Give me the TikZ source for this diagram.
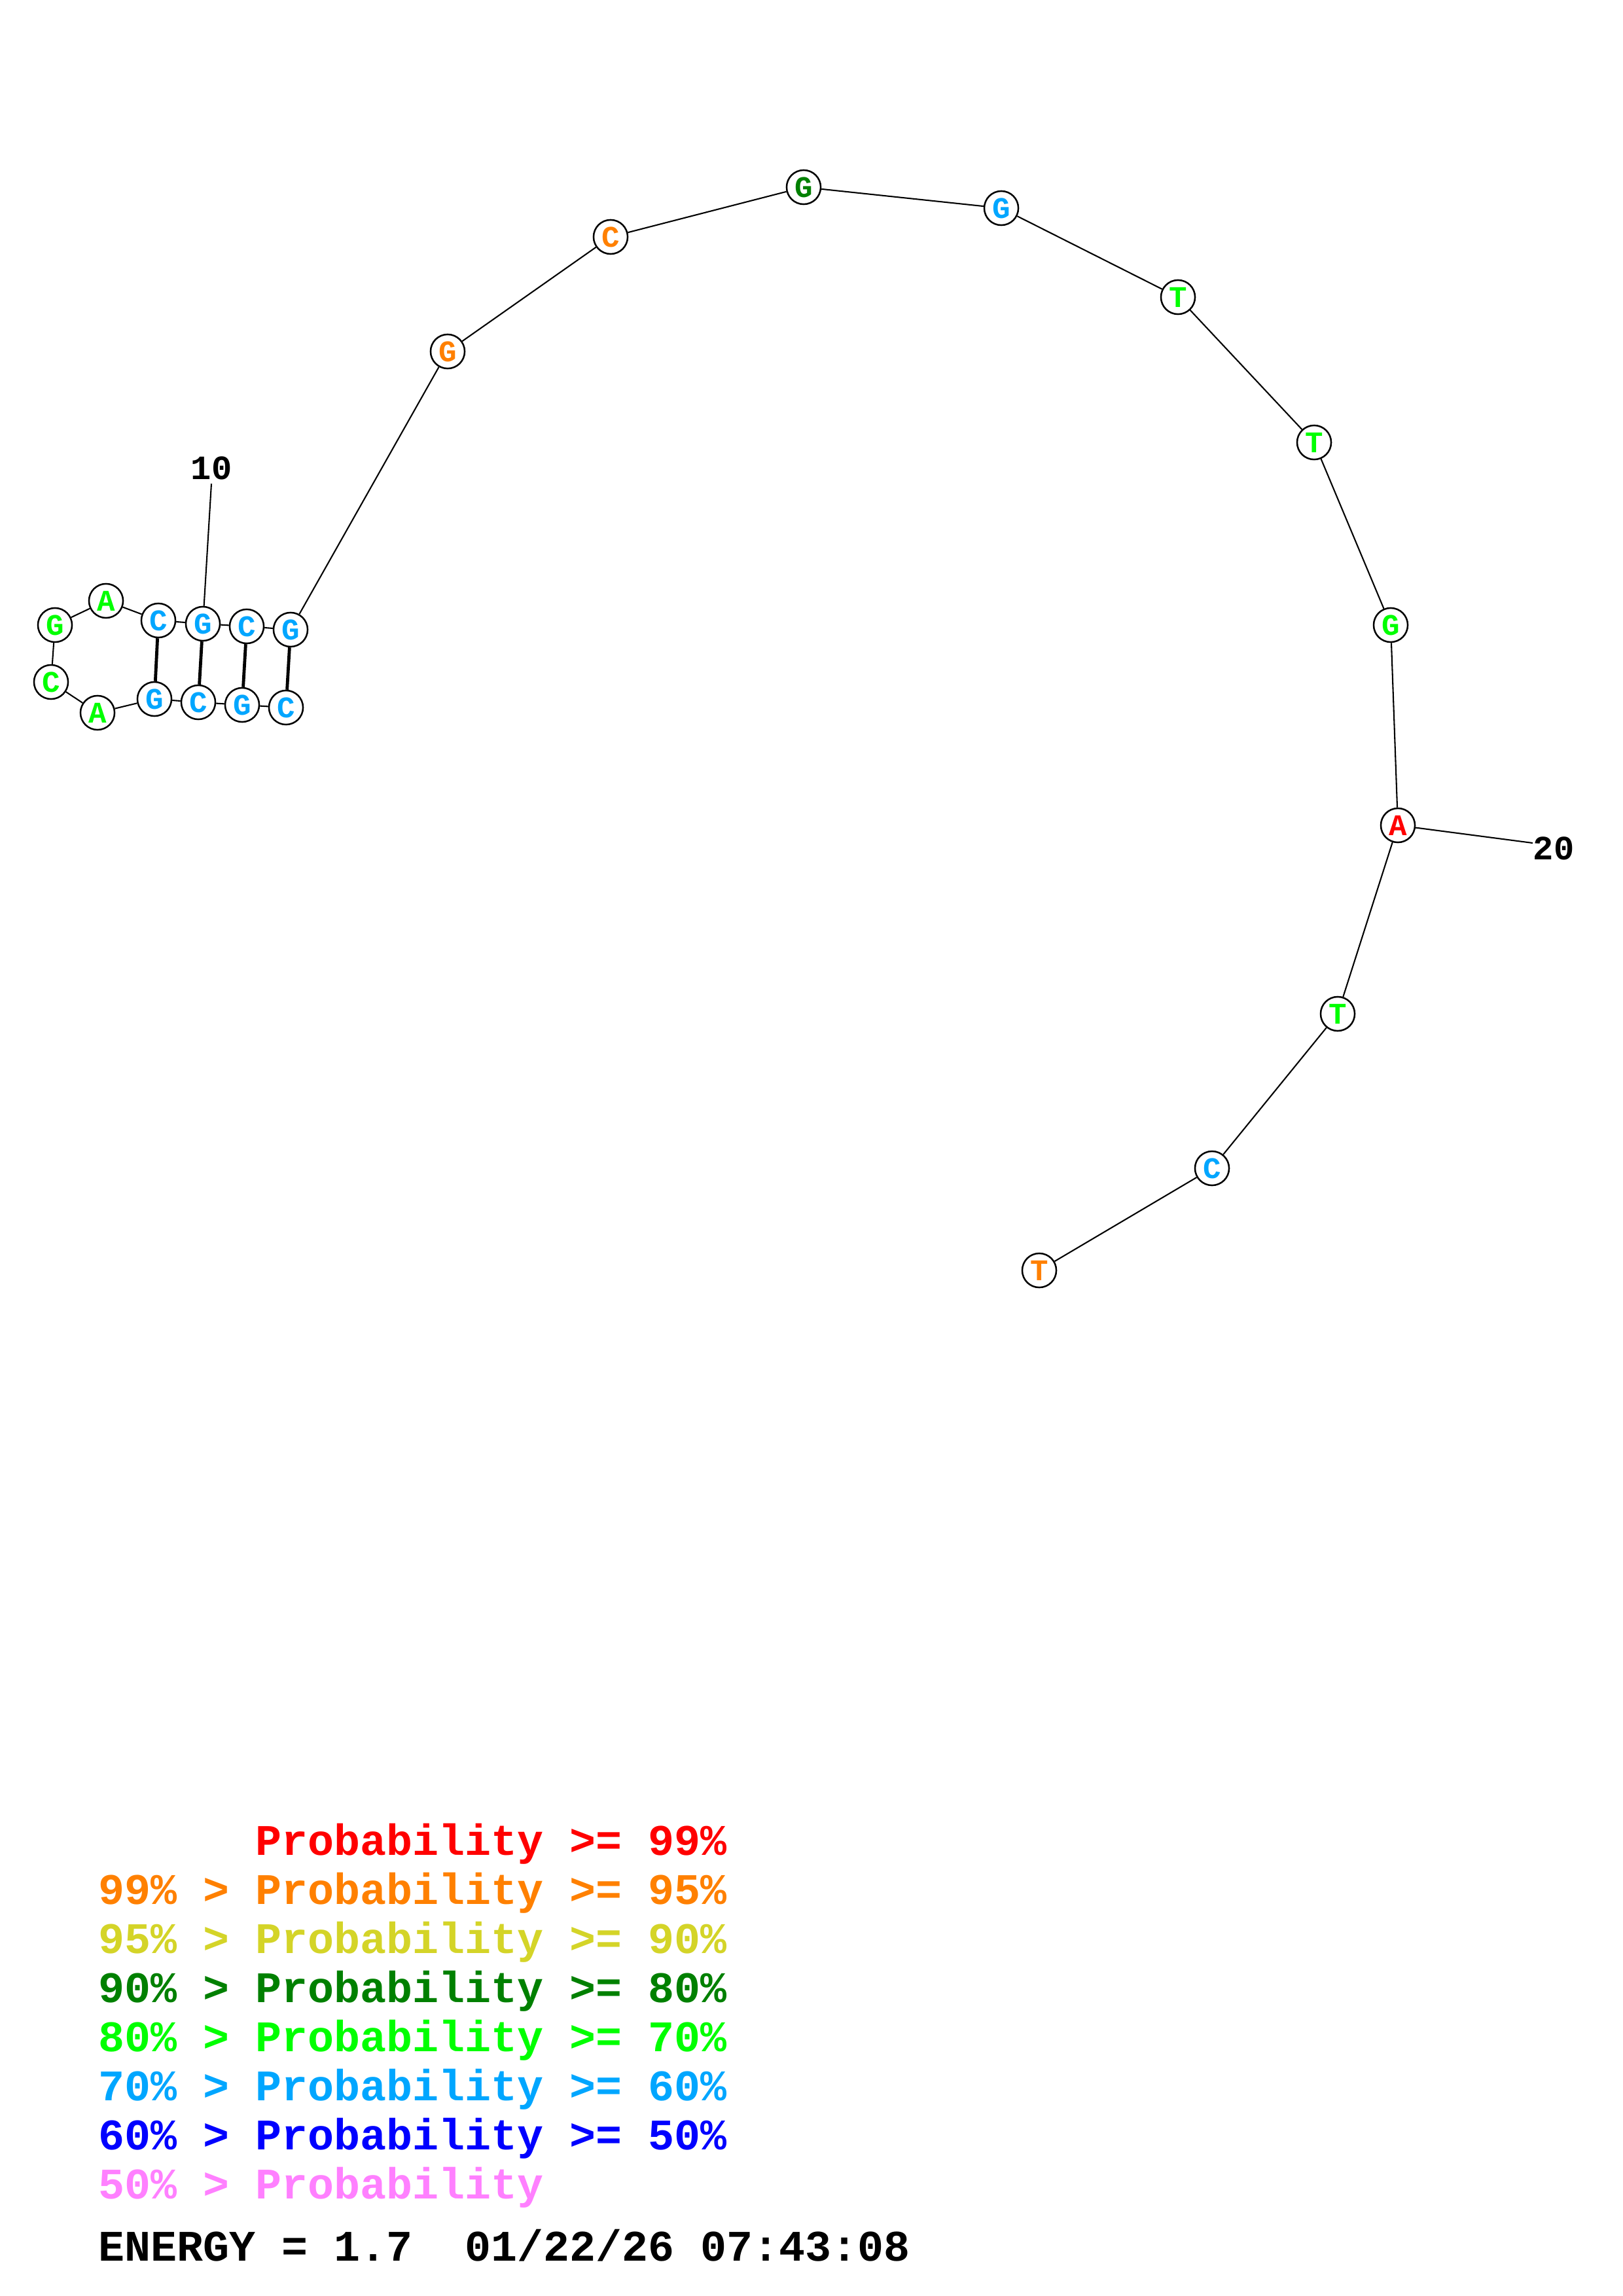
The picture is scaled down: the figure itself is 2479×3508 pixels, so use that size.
\documentclass[tikz,border=0pt]{standalone}
\usepackage{fontspec}
\setmainfont{Liberation Mono}
\setmonofont{Liberation Mono}
\definecolor{pRed}{RGB}{255,0,0}
\definecolor{pOrange}{RGB}{255,128,0}
\definecolor{pYellow}{RGB}{212,212,40}
\definecolor{pDGreen}{RGB}{0,128,0}
\definecolor{pGreen}{RGB}{0,255,0}
\definecolor{pLBlue}{RGB}{0,166,255}
\definecolor{pBlue}{RGB}{0,0,255}
\definecolor{pPink}{RGB}{255,128,255}
\begin{document}
\begin{tikzpicture}[x=0.24pt,y=-0.24pt,
  base/.style={circle,draw=black,line width=0.6pt,fill=white,minimum size=12.5pt,inner sep=0pt,
    font=\bfseries\fontsize{11}{11}\selectfont},
  bb/.style={line width=0.5pt,black},
  pairline/.style={line width=1.15pt,black},
  numlabel/.style={font=\bfseries\fontsize{12.5}{12.5}\selectfont,inner sep=0pt},
  legend/.style={anchor=base west,inner sep=0pt,font=\bfseries\fontsize{16}{16}\selectfont}]
\useasboundingbox (0,0) rectangle (2479,3508);
% nucleotides
\node[base,text=pLBlue] (n1) at (437,1081) {C};
\node[base,text=pLBlue] (n2) at (370,1077) {G};
\node[base,text=pLBlue] (n3) at (303,1073) {C};
\node[base,text=pLBlue] (n4) at (236,1068) {G};
\node[base,text=pGreen] (n5) at (149,1089) {A};
\node[base,text=pGreen] (n6) at (78,1042) {C};
\node[base,text=pGreen] (n7) at (84,955) {G};
\node[base,text=pGreen] (n8) at (162,918) {A};
\node[base,text=pLBlue] (n9) at (242,948) {C};
\node[base,text=pLBlue] (n10) at (310,953) {G};
\node[base,text=pLBlue] (n11) at (377,957) {C};
\node[base,text=pLBlue] (n12) at (444,962) {G};
\node[base,text=pOrange] (n13) at (684,537) {G};
\node[base,text=pOrange] (n14) at (933,362) {C};
\node[base,text=pDGreen] (n15) at (1228,286) {G};
\node[base,text=pLBlue] (n16) at (1530,318) {G};
\node[base,text=pGreen] (n17) at (1800,454) {T};
\node[base,text=pGreen] (n18) at (2008,676) {T};
\node[base,text=pGreen] (n19) at (2125,955) {G};
\node[base,text=pRed] (n20) at (2136,1261) {A};
\node[base,text=pGreen] (n21) at (2044,1549) {T};
\node[base,text=pLBlue] (n22) at (1852,1785) {C};
\node[base,text=pOrange] (n23) at (1588,1941) {T};
% backbone
\draw[bb] (n1) -- (n2) -- (n3) -- (n4) -- (n5) -- (n6) -- (n7) -- (n8) -- (n9) -- (n10) -- (n11) -- (n12)
  -- (n13) -- (n14) -- (n15) -- (n16) -- (n17) -- (n18) -- (n19) -- (n20) -- (n21) -- (n22) -- (n23);
% base pairs
\draw[pairline] (n1) -- (n12);
\draw[pairline] (n2) -- (n11);
\draw[pairline] (n3) -- (n10);
\draw[pairline] (n4) -- (n9);
% number labels
\node[numlabel] (l10) at (323,715) {10};
\coordinate (c10) at (323,739);
\draw[bb] (c10) -- (n10);
\node[numlabel] (l20) at (2374,1296) {20};
\coordinate (c20) at (2342,1288);
\draw[bb] (n20) -- (c20);
% legend
\node[legend,text=pRed] (g1) at (150,2834) {\phantom{99\% > }Probability >= 99\%};
\node[legend,text=pOrange] (g2) at (150,2909) {99\% > Probability >= 95\%};
\node[legend,text=pYellow] (g3) at (150,2984) {95\% > Probability >= 90\%};
\node[legend,text=pDGreen] (g4) at (150,3059) {90\% > Probability >= 80\%};
\node[legend,text=pGreen] (g5) at (150,3134) {80\% > Probability >= 70\%};
\node[legend,text=pLBlue] (g6) at (150,3209) {70\% > Probability >= 60\%};
\node[legend,text=pBlue] (g7) at (150,3284) {60\% > Probability >= 50\%};
\node[legend,text=pPink] (g8) at (150,3359) {50\% > Probability};
\node[legend,text=black] (en) at (150,3454) {ENERGY = 1.7\ \ 01/22/26 07:43:08};
\end{tikzpicture}
\end{document}
